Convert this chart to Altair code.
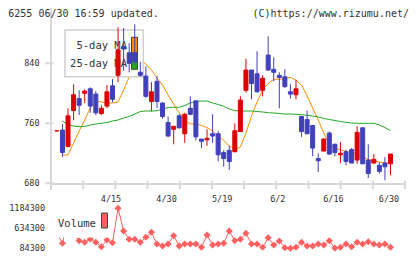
import altair as alt
import pandas as pd
import numpy as np

# ---- data ----
tick_idx = [10, 20, 30, 40, 50, 60]
tick_labels = ["4/15", "4/30", "5/19", "6/2", "6/16", "6/30"]

opens = [750, 751, 729, 777, 793, 800, 806, 799, 773, 783, 810, 824, 862, 854, 854, 828, 823, 789, 816, 787,
         761, 752, 770, 746, 780, 790, 739, 738, 746, 746, 721, 724, 722, 749, 804, 831, 826, 804, 851, 832,
         824, 822, 802, 798, 769, 765, 757, 713, 723, 747, 732, 718, 722, 725, 711, 754, 711, 707, 704, 707, 706]
highs = [751, 759, 780, 812, 804, 805, 808, 803, 784, 811, 819, 888, 887, 867, 892, 842, 836, 815, 823, 788,
         769, 756, 772, 774, 796, 790, 739, 752, 772, 750, 724, 730, 760, 796, 846, 831, 856, 824, 876, 848,
         828, 832, 812, 818, 770, 777, 758, 720, 740, 749, 733, 735, 725, 727, 756, 754, 732, 719, 708, 715, 719]
lows = [749, 715, 728, 764, 771, 787, 774, 771, 771, 780, 788, 815, 830, 828, 838, 822, 794, 776, 780, 766,
        742, 732, 753, 734, 771, 737, 727, 730, 734, 709, 702, 698, 722, 749, 801, 792, 801, 796, 830, 816,
        780, 807, 793, 792, 742, 746, 716, 695, 723, 718, 716, 707, 704, 707, 706, 706, 687, 706, 693, 684, 691]
closes = [750, 721, 770, 798, 784, 803, 783, 774, 780, 802, 792, 858, 859, 840, 842, 824, 796, 802, 789, 769,
          743, 756, 754, 772, 772, 742, 736, 740, 743, 718, 713, 709, 750, 791, 831, 813, 802, 820, 831, 828,
          821, 809, 799, 806, 749, 746, 727, 710, 739, 719, 721, 720, 709, 707, 748, 706, 693, 712, 696, 702, 719]
ma5 = [None, 717.7, 717.7, 733.7, 749.7, 764.4, 780.4, 789.7, 788.4, 787.1, 787.1, 788.4, 804.4, 821.7, 836.4,
       844.4, 839.1, 831.1, 820.4, 811.1, 797.7, 785.7, 773.7, 763.1, 759.1, 759.1, 757.1, 754.4, 749.7, 743.1,
       737.1, 729.7, 725.7, 728.4, 747.1, 769.7, 788.4, 804.4, 813.3, 818.7, 818.7, 819.7, 821.3, 817.7, 811.1,
       796.4, 780.4, 764.4, 747.1, 732.4, 727.1, 724.4, 722.7, 721.1, 719.1, 715.1, 711.7, 709.7, 708.4, 707.1, 706.4]
ma25 = [None, 763.1, 758.4, 756.4, 755.5, 755.7, 757.7, 759.1, 760.0, 761.1, 763.1, 764.4, 767.1, 769.1, 772.4,
        775.7, 776.4, 776.4, 776.8, 779.1, 781.1, 781.3, 781.3, 783.7, 787.1, 789.1, 789.7, 789.7, 787.1, 785.1,
        782.7, 779.1, 776.8, 776.4, 776.4, 776.4, 775.7, 775.1, 774.1, 773.7, 773.1, 772.4, 772.4, 772.0, 771.5,
        770.7, 769.7, 768.4, 766.4, 765.1, 763.7, 762.4, 761.3, 760.4, 760.0, 760.0, 760.0, 760.0, 757.7, 754.4, 750.4]
volume = [500000, 221800, 900000, 480000, 293300, 249300, 340000, 249300, 128300, 312500, 238300, 1184300,
          560000, 331800, 331800, 249300, 386800, 524300, 202500, 147500, 202500, 430800, 147500, 202500,
          202500, 202500, 111800, 450000, 175000, 202500, 221800, 560000, 293300, 331800, 496800, 202500,
          202500, 111800, 375800, 175000, 285000, 100000, 84300, 111800, 249300, 147500, 147500, 202500,
          175000, 293300, 90000, 111800, 202500, 128300, 249300, 202500, 265800, 202500, 175000, 202500, 111800]
price_ticks = [680, 760, 840]
vol_ticks = [84300, 634300, 1184300]

df = pd.DataFrame({"i": list(range(len(opens))), "o": opens, "h": highs, "l": lows, "c": closes,
                   "ma5": ma5, "ma25": ma25, "v": volume})

# ---- layout / style ----
W, H = 354, 240.5
PX = 5.56
d0 = -5.9 / PX
d1 = d0 + W / PX
MONO = "DejaVu Sans Mono"
GRID = "#d9d9d9"
RED = "#dd0000"
BLUE = "#4040bb"
ORANGE = "#ff8c00"
GREEN = "#22aa22"
VOL = "#ff6060"
TXT = "#333333"

xs = alt.Scale(domain=[d0, d1], nice=False, zero=False)
ps = alt.Scale(domain=[593.07, 913.73], nice=False, zero=False)
vs = alt.Scale(domain=[78800, 6692550], nice=False, zero=False)

one = pd.DataFrame({"a": [0]})
col = alt.condition("datum.c >= datum.o", alt.value(RED), alt.value(BLUE))

# axis decorations
xline = alt.Chart(pd.DataFrame({"x": [d0], "x2": [d1], "y": [679]})).mark_rule(color=GRID, strokeWidth=2).encode(
    x=alt.X("x:Q", scale=xs, axis=None), x2="x2:Q", y=alt.Y("y:Q", scale=ps, axis=None))
yline = alt.Chart(pd.DataFrame({"x": [d0], "y": [671], "y2": [913.7]})).mark_rule(color=GRID, strokeWidth=2).encode(
    x=alt.X("x:Q", scale=xs, axis=None), y=alt.Y("y:Q", scale=ps, axis=None), y2="y2:Q")
xt = pd.DataFrame({"x": np.linspace(d0, d1, 12), "y": 672.0, "y2": 683.5})
xticks = alt.Chart(xt).mark_rule(color=GRID, strokeWidth=2).encode(
    x=alt.X("x:Q", scale=xs, axis=None), y=alt.Y("y:Q", scale=ps, axis=None), y2="y2:Q")
pt_df = pd.DataFrame({"y": price_ticks, "t": [str(v) for v in price_ticks]})
yticks = alt.Chart(pt_df).mark_rule(color=GRID, strokeWidth=2).encode(
    x=alt.value(-6), x2=alt.value(2.5), y=alt.Y("y:Q", scale=ps, axis=None))
ylabels = alt.Chart(pt_df).mark_text(font=MONO, fontSize=8.5, color=TXT, align="right", baseline="middle").encode(
    x=alt.value(-11.4), y=alt.Y("y:Q", scale=ps, axis=None), text="t:N")

base = alt.Chart(df)
line5 = base.mark_line(color=ORANGE, strokeWidth=1).encode(
    x=alt.X("i:Q", scale=xs, axis=None), y=alt.Y("ma5:Q", scale=ps, axis=None))
line25 = base.mark_line(color=GREEN, strokeWidth=1).encode(
    x=alt.X("i:Q", scale=xs, axis=None), y=alt.Y("ma25:Q", scale=ps, axis=None))

legbox = alt.Chart(one).mark_rect(fill="white", stroke="#d0d0d0", strokeWidth=1.5).encode(
    x=alt.value(14), x2=alt.value(92.3), y=alt.value(22), y2=alt.value(68.7))
legtxt = alt.Chart(pd.DataFrame({"t": ["5-day MA", "25-day MA"], "yy": [41.3, 59.3]})).mark_text(
    font=MONO, fontSize=10.5, color=TXT, align="right", baseline="alphabetic").encode(
    x=alt.value(76), y=alt.Y("yy:Q", scale=None), text="t:N")
sw1 = alt.Chart(one).mark_rect(fill=ORANGE, stroke="#444444", strokeWidth=1).encode(
    x=alt.value(80.5), x2=alt.value(86.5), y=alt.value(29.3), y2=alt.value(45.3))
sw2 = alt.Chart(one).mark_rect(fill=GREEN, stroke="#444444", strokeWidth=1).encode(
    x=alt.value(80.5), x2=alt.value(86.5), y=alt.value(45.3), y2=alt.value(61.3))

wick = base.mark_rule(strokeWidth=1).encode(
    x=alt.X("i:Q", scale=xs, axis=None), y=alt.Y("l:Q", scale=ps, axis=None), y2="h:Q", color=col)
body = base.transform_calculate(
    lo="min(datum.o, datum.c)", hi="max(datum.o, datum.c)", xl="datum.i - 0.36", xr="datum.i + 0.36"
).mark_rect(strokeWidth=1).encode(
    x=alt.X("xl:Q", scale=xs, axis=None), x2="xr:Q",
    y=alt.Y("lo:Q", scale=ps, axis=None), y2="hi:Q", fill=col, stroke=col)

xlab = alt.Chart(pd.DataFrame({"i": tick_idx, "t": tick_labels})).mark_text(
    font=MONO, fontSize=8.5, color=TXT, baseline="alphabetic", dx=-1.5).encode(
    x=alt.X("i:Q", scale=xs, axis=None), y=alt.value(193.5), text="t:N")

title_l = alt.Chart(pd.DataFrame({"t": ["6255 06/30 16:59 updated."]})).mark_text(
    font=MONO, fontSize=10, color=TXT, align="left", baseline="alphabetic").encode(
    x=alt.value(-42.7), y=alt.value(8.5), text="t:N")
title_r = alt.Chart(pd.DataFrame({"t": ["(C)https://www.rizumu.net/"]})).mark_text(
    font=MONO, fontSize=10, color=TXT, align="right", baseline="alphabetic").encode(
    x=alt.value(358), y=alt.value(8.5), text="t:N")

price = alt.layer(xline, yline, xticks, yticks, ylabels, line5, line25, legbox, legtxt, sw1, sw2,
                  wick, body, xlab, title_l, title_r)

vline = base.mark_line(color=VOL, strokeWidth=1).encode(
    x=alt.X("i:Q", scale=xs, axis=None), y=alt.Y("v:Q", scale=vs, axis=None))
vpts = base.mark_point(shape="diamond", filled=True, size=50, color=VOL, opacity=1).encode(
    x=alt.X("i:Q", scale=xs, axis=None), y=alt.Y("v:Q", scale=vs, axis=None))
vt_df = pd.DataFrame({"y": vol_ticks, "t": [str(v) for v in vol_ticks]})
vlabels = alt.Chart(vt_df).mark_text(font=MONO, fontSize=8.5, color=TXT, align="right", baseline="middle").encode(
    x=alt.value(-6), y=alt.Y("y:Q", scale=vs, axis=None), text="t:N")
vbox = alt.Chart(one).mark_rect(fill="white").encode(
    x=alt.value(1), x2=alt.value(60), y=alt.value(196), y2=alt.value(229.5))
vtxt = alt.Chart(pd.DataFrame({"t": ["Volume"]})).mark_text(
    font=MONO, fontSize=10.5, color=TXT, align="left", baseline="alphabetic").encode(
    x=alt.value(7), y=alt.value(218.7), text="t:N")
vsw = alt.Chart(one).mark_rect(fill=VOL, stroke="#444444", strokeWidth=1).encode(
    x=alt.value(50.5), x2=alt.value(56.5), y=alt.value(205), y2=alt.value(220))

vol = alt.layer(vline, vpts, vlabels, vbox, vtxt, vsw)

chart = alt.layer(price, vol).resolve_scale(y="independent").properties(
    width=W, height=H,
    padding={"left": 51, "top": 8, "right": 15, "bottom": 10.5},
    autosize=alt.AutoSizeParams(type="none"),
    background="white",
).configure_view(stroke=None)

chart.save("out.html", embed_options={"renderer": "svg", "actions": False})
